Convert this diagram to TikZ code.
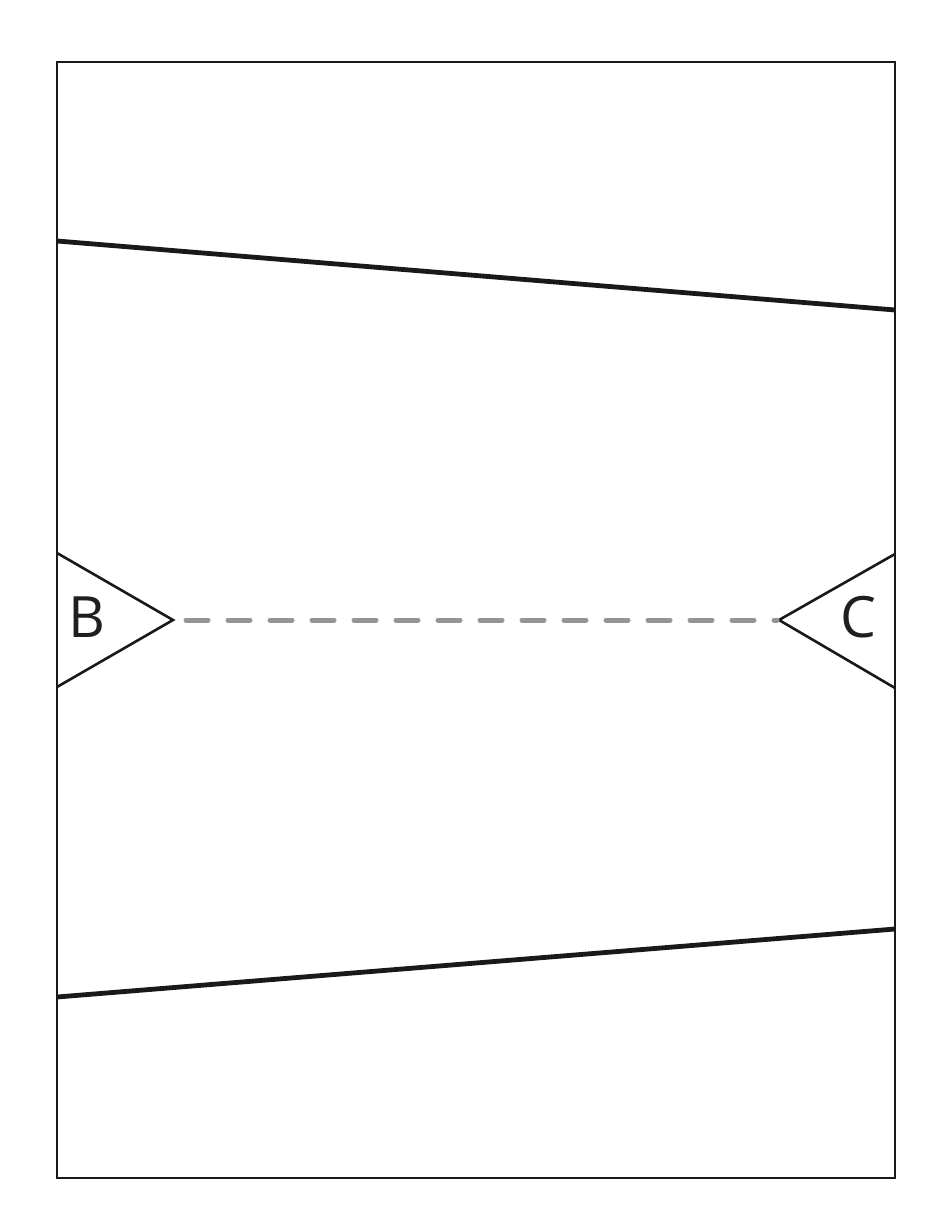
\documentclass[tikz,border=0pt]{standalone}
\usepackage{fontspec}
\setmainfont{Open Sans}
\begin{document}
\begin{tikzpicture}[x=1pt,y=-1pt,
  frame/.style={draw=black!90,line width=2.6pt},
  slant/.style={draw=black!90,line width=4.8pt},
  tri/.style={draw=black!90,line width=2.6pt,line join=miter},
  link/.style={draw=black!42,line width=5pt,dash pattern=on 22pt off 20pt,line cap=round},
  lbl/.style={font=\fontsize{57}{57}\selectfont,text=black!88,inner sep=0pt}]
\useasboundingbox (0,0) rectangle (950,1230);
\draw[frame] (57,62) rectangle (895,1178);
\draw[slant] (57,241) -- (895,310);
\draw[slant] (57,997) -- (895,929);
\coordinate (btip) at (173,620);
\coordinate (ctip) at (779,620);
\draw[tri] (57,553) -- (btip) -- (57,687);
\draw[tri] (895,554) -- (ctip) -- (895,688);
\node[lbl] (B) at (87,617) {B};
\node[lbl] (C) at (858,617) {C};
\draw[link] ([xshift=13pt]btip) -- ([xshift=-2pt]ctip);
\end{tikzpicture}
\end{document}
